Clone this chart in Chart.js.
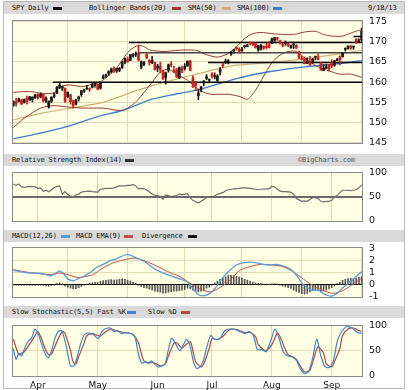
<!DOCTYPE html>
<html><head><meta charset="utf-8">
<script src="https://cdn.jsdelivr.net/npm/chart.js@4.4.0/dist/chart.umd.min.js"></script>
<style>
html,body{margin:0;padding:0;background:#fff;}
#wrap{position:relative;width:409px;height:390px;overflow:hidden;background:#fff;}
.frame{position:absolute;left:3px;top:1px;width:402px;height:388px;border:1px solid #b8b8b8;box-sizing:border-box;}
.hdr{position:absolute;left:4px;width:400px;height:12px;background:#d9d9d9;}
.t{position:absolute;font-family:"DejaVu Sans Mono",monospace;font-size:7px;letter-spacing:-0.15px;color:#111;white-space:nowrap;line-height:8px;}
.d{position:absolute;height:3px;width:9px;}
canvas{position:absolute;}
</style></head>
<body>
<div id="wrap">
<div class="frame"></div>
<div class="hdr" style="top:2px"></div>
<div class="hdr" style="top:154px"></div>
<div class="hdr" style="top:230px"></div>
<div class="hdr" style="top:306px"></div>

<span class="t" style="left:12px;top:4px">SPY Daily</span><div class="d" style="left:53px;top:7px;background:#111"></div>
<span class="t" style="left:89px;top:4px">Bollinger Bands(20)</span><div class="d" style="left:172px;top:7px;background:#9b3b3b"></div>
<span class="t" style="left:188px;top:4px">SMA(50)</span><div class="d" style="left:222px;top:7px;background:#cdb17c"></div>
<span class="t" style="left:237px;top:4px">SMA(100)</span><div class="d" style="left:273px;top:7px;background:#3d7fcc"></div>
<span class="t" style="left:368px;top:4px">9/18/13</span>

<span class="t" style="left:12px;top:156px">Relative Strength Index(14)</span><div class="d" style="left:125px;top:159px;background:#333"></div>
<span class="t" style="left:298px;top:156px;color:#555">©BigCharts.com</span>

<span class="t" style="left:12px;top:232px">MACD(12,26)</span><div class="d" style="left:61px;top:235px;background:#5b9bd8"></div>
<span class="t" style="left:76px;top:232px">MACD EMA(9)</span><div class="d" style="left:124px;top:235px;background:#c0504d"></div>
<span class="t" style="left:142px;top:232px">Divergence</span><div class="d" style="left:188px;top:235px;background:#111"></div>

<span class="t" style="left:12px;top:308px">Slow Stochastic(5,5) Fast %K</span><div class="d" style="left:127px;top:311px;background:#3d85d6"></div>
<span class="t" style="left:148px;top:308px">Slow %D</span><div class="d" style="left:181px;top:311px;background:#b5473f"></div>

<canvas id="cPrice" width="392" height="147" style="left:12px;top:8px"></canvas>
<canvas id="cRsi" width="392" height="73" style="left:12px;top:160px"></canvas>
<canvas id="cMacd" width="392" height="74" style="left:12px;top:235px"></canvas>
<canvas id="cStoch" width="392" height="77" style="left:12px;top:313px"></canvas>
</div>
<script>
// ---------- DATA ----------
const tradingDays = [
'3/18','3/19','3/20','3/21','3/22','3/25','3/26','3/27','3/28',
'4/1','4/2','4/3','4/4','4/5','4/8','4/9','4/10','4/11','4/12','4/15','4/16','4/17','4/18','4/19','4/22','4/23','4/24','4/25','4/26','4/29','4/30',
'5/1','5/2','5/3','5/6','5/7','5/8','5/9','5/10','5/13','5/14','5/15','5/16','5/17','5/20','5/21','5/22','5/23','5/24','5/28','5/29','5/30','5/31',
'6/3','6/4','6/5','6/6','6/7','6/10','6/11','6/12','6/13','6/14','6/17','6/18','6/19','6/20','6/21','6/24','6/25','6/26','6/27','6/28',
'7/1','7/2','7/3','7/5','7/8','7/9','7/10','7/11','7/12','7/15','7/16','7/17','7/18','7/19','7/22','7/23','7/24','7/25','7/26','7/29','7/30','7/31',
'8/1','8/2','8/5','8/6','8/7','8/8','8/9','8/12','8/13','8/14','8/15','8/16','8/19','8/20','8/21','8/22','8/23','8/26','8/27','8/28','8/29','8/30',
'9/3','9/4','9/5','9/6','9/9','9/10','9/11','9/12','9/13','9/16','9/17','9/18'];
const monthNames = ['Apr','May','Jun','Jul','Aug','Sep'];

const openP = [
154.3,155.3,155.3,155.6,155.0,156.0,155.6,155.7,156.2,
157.0,156.5,157.0,155.4,153.9,155.3,156.5,157.2,158.7,158.5,158.5,156.4,156.9,155.4,154.5,155.9,156.9,157.8,158.3,158.3,158.8,159.3,
159.5,158.5,161.0,161.4,162.2,162.6,163.3,162.8,163.0,163.6,164.9,165.6,165.4,166.6,166.8,167.2,163.7,164.4,166.8,165.4,164.8,164.9,
163.5,164.0,162.6,161.2,163.0,164.4,162.8,163.1,161.1,163.4,163.4,164.0,165.2,161.0,159.8,156.7,158.2,159.8,161.0,160.5,
162.1,161.4,160.4,162.5,164.5,165.0,165.0,167.0,167.7,168.5,168.2,167.8,168.8,168.9,169.7,169.7,169.5,168.0,168.2,168.8,168.8,169.3,
169.6,170.3,170.8,170.2,169.4,169.5,169.3,168.5,169.2,169.1,167.4,165.8,165.8,164.7,165.2,165.0,166.2,166.0,164.6,162.9,163.4,164.3,
164.7,164.2,165.4,166.3,166.3,168.1,168.2,168.9,168.7,170.6,169.9,170.5];
const highP = [
155.4,156.0,156.1,155.8,155.9,156.6,156.5,156.4,157.0,
157.1,157.4,157.2,156.4,155.4,156.4,157.4,158.9,159.7,159.0,158.6,157.6,157.0,155.6,155.8,156.6,158.0,158.3,159.2,158.6,159.7,159.9,
159.6,159.9,161.8,162.0,162.8,163.5,163.8,163.5,163.6,165.2,166.0,166.3,166.9,167.1,167.5,169.1,165.3,165.1,167.3,165.6,166.4,165.0,
164.4,165.0,163.0,162.5,164.5,165.1,163.9,163.4,163.8,164.0,164.6,165.3,165.4,161.6,160.2,158.2,159.0,160.4,161.9,160.8,
162.4,162.3,161.9,163.6,164.7,165.7,165.6,167.6,168.1,168.8,168.5,168.6,169.2,169.4,169.9,169.9,169.6,169.1,169.3,169.0,169.6,170.1,
170.9,171.0,171.1,170.4,169.7,170.2,169.7,169.2,169.9,169.3,167.7,166.5,166.2,166.0,166.4,165.9,166.4,167.0,164.9,164.4,164.5,164.4,
165.6,165.4,165.9,166.5,167.3,168.5,169.0,169.1,168.9,170.8,170.7,173.4];
const lowP = [
154.0,154.1,155.1,154.5,154.8,154.6,155.5,155.1,156.0,
155.8,156.1,155.1,155.0,153.6,154.9,156.1,157.2,158.4,157.9,155.0,156.2,154.6,153.6,154.4,155.3,156.5,157.5,158.2,157.7,158.6,158.8,
158.1,158.3,160.8,161.2,161.7,162.3,162.4,162.4,162.6,163.4,164.5,164.9,165.3,166.2,166.4,165.2,163.3,164.1,165.8,164.2,164.6,163.0,
162.6,162.3,160.6,159.5,162.5,163.8,162.3,161.1,160.9,162.3,163.0,163.9,162.8,158.7,157.9,155.7,157.6,159.1,160.6,159.8,
161.0,160.8,160.2,161.8,163.6,164.6,164.5,166.6,167.2,168.0,167.3,167.6,168.4,168.7,169.2,169.1,168.4,167.7,167.9,168.1,168.2,168.5,
169.5,170.1,170.3,169.4,168.7,169.1,168.8,168.4,168.3,168.3,165.8,165.5,164.5,164.6,164.2,164.7,165.5,165.5,162.9,162.9,163.4,162.8,
163.6,163.9,165.3,164.3,166.2,167.7,168.2,168.1,168.1,169.6,169.8,170.1];
const closeP = [
155.2,154.8,155.9,154.6,155.7,155.2,156.4,156.3,156.9,
156.2,157.0,155.4,156.0,155.3,156.3,156.9,158.8,159.3,158.9,155.2,157.5,155.2,154.2,155.5,156.3,157.9,157.9,158.5,158.2,159.4,159.8,
158.3,159.8,161.4,161.8,162.6,163.3,162.7,163.4,163.4,165.0,165.9,165.1,166.8,166.6,166.9,165.5,165.1,165.0,166.0,164.8,165.4,163.1,
164.0,163.1,160.9,162.3,164.3,164.3,162.6,161.3,163.6,162.7,163.9,165.2,162.9,158.8,159.2,157.3,158.8,160.3,161.3,160.6,
161.4,161.4,161.5,163.2,164.1,165.2,165.3,167.5,168.0,168.3,167.6,168.1,168.9,169.2,169.6,169.2,168.6,169.0,169.2,168.5,168.6,168.6,
170.7,171.0,170.7,169.7,169.1,169.8,169.1,169.0,169.4,168.5,166.1,165.6,164.6,165.2,164.3,165.7,166.3,165.6,163.0,163.5,163.8,163.3,
164.0,165.3,165.5,165.5,167.2,168.4,168.9,168.4,168.8,169.7,170.5,172.6];

// [day index, value]
const bbUpper = [[0,157.5],[6,157.7],[11,157.2],[15,157.4],[17,158.9],[21,159.3],[25,158.9],[28,159.3],[32,160.1],[35,161.6],[38,163.5],[40,165.5],[43,168.0],[46,169.1],[48,168.8],[50,168.0],[55,167.6],[61,167.9],[67,167.9],[71,166.8],[75,166.2],[79,167.1],[82,168.8],[85,170.8],[88,172.0],[91,172.3],[95,172.0],[99,171.8],[103,171.8],[107,172.4],[111,172.6],[114,171.8],[117,171.4],[121,171.4],[125,172.4],[128,173.0]];
const bbLower = [[0,148.8],[4,151.1],[10,153.6],[15,154.2],[21,153.8],[26,153.6],[33,153.6],[40,153.0],[44,154.5],[47,156.6],[51,160.0],[54,162.5],[57,163.2],[60,162.0],[64,160.5],[67,158.8],[70,157.5],[73,157.0],[79,157.0],[83,156.5],[86,155.8],[89,158.0],[92,161.5],[95,164.8],[98,166.7],[101,167.6],[104,167.6],[106,166.5],[109,165.0],[112,163.8],[116,162.8],[120,162.0],[124,162.0],[128,161.2]];
const sma50 = [[0,150.7],[10,152.3],[23,153.8],[33,155.0],[46,158.1],[56,160.1],[65,161.6],[76,163.4],[82,164.2],[95,164.9],[108,165.9],[120,167.0],[128,167.9]];
const sma100 = [[0,146.0],[9,147.3],[20,149.1],[31,151.5],[40,153.0],[51,155.8],[60,157.1],[69,158.3],[82,160.9],[95,162.7],[107,163.8],[117,164.4],[128,165.3]];
// drawn support / resistance levels: [start day index, price]
const levels = [[14.5,160.0],[42.5,169.8],[46,167.3],[71.5,164.9],[125,171.3]];

const rsi14 = [[0,76],[1,73],[2,76],[3,70],[4,69],[6,71],[8,70],[9,67],[10,68],[11,61],[12,63],[13,60],[15,68],[16,71],[17,72],[18,55],[19,60],[20,54],[21,51],[22,49],[23,53],[24,55],[25,59],[26,60],[28,61],[29,60],[31,59],[32,65],[33,66],[34,67],[36,67],[37,68],[38,70],[39,72],[41,72],[42,73],[43,73],[44,75],[45,72],[46,66],[47,67],[48,66],[50,60],[51,55],[52,53],[53,52],[54,50],[55,44],[56,53],[57,52],[58,50],[60,52],[61,55],[62,54],[63,55],[64,56],[65,47],[66,42],[67,39],[68,37],[69,40],[70,44],[71,48],[72,48],[73,49],[74,51],[75,55],[77,58],[78,62],[79,64],[80,65],[81,66],[83,67],[84,68],[85,68],[87,67],[88,66],[89,65],[90,64],[91,65],[93,66],[94,66],[95,71],[96,70],[97,65],[98,61],[99,60],[100,60],[102,59],[103,55],[104,46],[105,43],[106,40],[107,41],[108,40],[109,44],[110,48],[112,46],[113,40],[114,39],[115,40],[116,40],[117,42],[118,49],[119,52],[120,58],[121,63],[122,63],[124,62],[125,63],[126,64],[127,68],[128,74]];

const macdLine = [[0,1.2],[2.4,1.08],[6,0.96],[8.7,0.96],[11,0.9],[13.5,0.72],[15.3,0.9],[17,1.15],[18.2,0.96],[20,0.48],[22,0.32],[23.7,0.48],[25.6,0.67],[28,0.96],[30.7,1.44],[33,1.68],[35.5,1.97],[38,2.16],[40.3,2.4],[42,2.52],[44,2.35],[46.5,2.11],[49,1.8],[51.3,1.4],[53.9,1.08],[56.5,0.84],[58.7,0.67],[61.2,0.48],[63.8,0.24],[65.7,-0.24],[67.5,-0.72],[68.6,-0.88],[70.4,-0.9],[72.3,-0.72],[74.8,-0.12],[77,0.6],[79.6,1.2],[82,1.63],[84.4,1.8],[87,1.87],[89.5,1.8],[91.8,1.68],[94.3,1.63],[96.9,1.68],[99,1.56],[101.7,1.32],[104.3,0.72],[106.5,0.0],[108.3,-0.29],[110,-0.48],[112,-0.43],[113.8,-0.72],[115.6,-0.9],[117,-0.96],[119,-0.72],[121.2,-0.24],[123.8,0.24],[125.6,0.6],[128,1.08]];
const macdSignal = [[0,1.25],[6,1.0],[13.5,0.84],[17,0.96],[20,0.84],[23.4,0.6],[25.6,0.63],[29.3,0.84],[33,1.4],[36.6,1.8],[40.3,2.04],[44,2.2],[46.5,2.11],[50.2,1.8],[53.9,1.4],[57.6,1.0],[61.2,0.67],[64.9,0.12],[68.6,-0.36],[72.3,-0.6],[75.9,-0.24],[79.6,0.36],[83.3,1.2],[87,1.5],[90.7,1.68],[95.4,1.63],[99,1.49],[102.8,1.08],[106.5,0.48],[110,-0.05],[113.8,-0.48],[117.5,-0.72],[121.2,-0.48],[124.8,0.05],[128,0.53]];
const macdHist = [
-0.02,-0.04,-0.05,-0.06,-0.05,-0.04,-0.06,-0.05,-0.03,-0.02,-0.04,-0.07,-0.1,-0.12,-0.08,-0.02,0.08,0.16,
0.06,-0.12,-0.2,-0.3,-0.36,-0.33,-0.26,-0.15,-0.05,0.04,0.12,0.15,
0.2,0.18,0.28,0.33,0.36,0.4,0.42,0.38,0.4,0.44,0.48,0.45,0.38,0.3,0.2,0.1,-0.05,
-0.15,-0.25,-0.3,-0.38,-0.45,-0.55,-0.6,-0.63,-0.7,-0.68,-0.62,-0.58,-0.55,-0.55,-0.5,-0.45,-0.42,-0.3,-0.35,-0.45,-0.55,-0.6,-0.55,-0.45,-0.3,-0.2,
-0.05,0.15,0.3,0.45,0.55,0.65,0.75,0.78,0.76,0.7,0.62,0.55,0.45,0.38,0.3,0.22,0.15,0.1,
0.08,0.05,0.04,0.02,0.06,0.08,0.04,
-0.05,-0.12,-0.18,-0.25,-0.32,-0.45,-0.55,-0.65,-0.75,-0.78,-0.72,-0.6,-0.5,-0.45,-0.5,-0.6,-0.55,-0.45,-0.35,-0.25,-0.1,
0.08,0.2,0.35,0.45,0.5,0.52,0.5,0.55,0.6,0.68];

const stochK = [[0,54],[1,33],[2,45],[3,40],[4.3,57],[5.5,69],[6.7,75],[7.9,93],[9.2,82],[10.4,63],[11.6,45],[12.8,36],[14.1,51],[15.3,75],[16.5,88],[17.7,90],[19,69],[20.2,39],[21,20],[22.3,20],[23.5,39],[24.7,63],[26,81],[27.2,85],[28.4,84],[29.6,81],[31.2,74],[32.5,88],[34,94],[35.5,95],[37,88],[38.2,90],[39.8,84],[41.4,86],[43.1,84],[44.7,77],[45.9,45],[47.2,25],[48.4,28],[49.6,25],[50.8,30],[52,23],[53.3,18],[54.5,20],[55.7,23],[56.9,50],[58.2,75],[59.8,62],[61.2,50],[62.5,62],[63.7,72],[64.9,60],[66.1,30],[67.4,15],[68.6,18],[69.8,30],[71,55],[72.5,80],[74.1,72],[76,75],[77.8,90],[79.6,93],[81.5,92],[83.3,88],[85.1,84],[86.7,88],[88.2,80],[89.7,52],[91.3,52],[92.9,48],[94.6,70],[96.2,93],[97.8,72],[99.2,48],[100.7,40],[102.3,38],[103.9,32],[105.4,15],[106.8,5],[108.4,8],[110,35],[111.5,73],[113,40],[114.6,18],[116.1,17],[117.6,30],[119.1,70],[120.7,88],[122.5,98],[124.4,95],[125.6,90],[126.8,85],[128,85]];
const stochD = [[0,73],[2,42],[3,45],[4,48],[6,63],[8,80],[9,88],[10,78],[12,50],[13,42],[14,43],[16,68],[18,88],[19,84],[21,50],[22,27],[23,24],[24,38],[26,65],[27,80],[29,84],[31,80],[32,79],[34,88],[36,93],[38,89],[40,87],[42,85],[44,82],[46,66],[47,45],[48,30],[50,26],[51,27],[53,23],[54,20],[56,25],[57,40],[59,65],[60,66],[62,55],[63,60],[65,68],[66,50],[67,28],[69,18],[70,24],[72,55],[73,74],[75,72],[77,78],[79,90],[81,93],[83,90],[85,86],[87,86],[89,78],[90,62],[92,52],[93,50],[95,62],[97,85],[98,78],[100,52],[101,42],[103,37],[104,33],[106,15],[107,8],[109,12],[111,45],[112,58],[114,45],[115,24],[117,18],[118,28],[120,55],[121,80],[123,93],[125,95],[127,90],[128,88]];

const priceTicks = [145,150,155,160,165,170,175];
const rsiTicks = [0,20,50,80,100];
const macdTicks = [-1,0,1,2,3];
const stochTicks = [0,25,50,75,100];

// ---------- CHARTS ----------
const monthIdx = monthNames.map((m,k)=>tradingDays.findIndex(d=>d.startsWith(String(k+4)+'/')));
const pts = a => a.map(([x,y])=>({x,y}));
const GRID = '#dedbb6';
const PLOT_BG = '#ffffe4';
const UP = '#1a1a1a', DOWN = '#d01e1e';

const framePlugin = {
  id:'frame',
  beforeDraw(c){const a=c.chartArea,x=c.ctx;x.save();x.fillStyle=PLOT_BG;x.fillRect(a.left,a.top,a.right-a.left,a.bottom-a.top);x.restore();},
  afterDraw(c){const a=c.chartArea,x=c.ctx;x.save();x.strokeStyle='#8a8a8a';x.lineWidth=1;x.strokeRect(Math.round(a.left)+0.5,Math.round(a.top)+0.5,Math.round(a.right-a.left)-1,Math.round(a.bottom-a.top)-1);x.restore();}
};

function makeOpts(yMin,yMax,yTicks,showX,gridColor,gridWidth){
  return {
    responsive:false, animation:false, devicePixelRatio:1,
    layout:{padding:{top:8,bottom:showX?0:8,left:0,right:0}},
    plugins:{legend:{display:false},tooltip:{enabled:false}},
    scales:{
      x:{type:'linear',min:-0.5,max:tradingDays.length-0.5,offset:false,
         afterBuildTicks:s=>{s.ticks=monthIdx.map(v=>({value:v}));},
         afterFit:s=>{s.height=showX?13:0;},
         ticks:{display:showX,autoSkip:false,maxRotation:0,padding:3,color:'#111',
                font:{family:'DejaVu Sans',size:9},callback:(v,i)=>monthNames[i]},
         grid:{drawTicks:false,color:GRID,lineWidth:1},border:{display:false}},
      y:{type:'linear',position:'right',min:yMin,max:yMax,
         afterBuildTicks:s=>{s.ticks=yTicks.map(v=>({value:v}));},
         afterFit:s=>{s.width=41;},
         ticks:{padding:6,color:'#111',font:{family:'DejaVu Sans',size:9.5}},
         grid:{drawTicks:false,color:gridColor||GRID,lineWidth:gridWidth||1},border:{display:false}}
    }
  };
}
const lineDs = (data,color,w,extra)=>Object.assign({type:'line',data:pts(data),borderColor:color,borderWidth:w,pointRadius:0,fill:false,tension:0.25},extra||{});
const candleColor = ctx=> closeP[ctx.dataIndex] < openP[ctx.dataIndex] ? DOWN : UP;

new Chart(document.getElementById('cPrice'),{
  type:'bar',
  data:{datasets:[
    {type:'bar',data:closeP.map((c,i)=>({x:i,y:[openP[i],c]})),backgroundColor:candleColor,barThickness:2,minBarLength:1,grouped:false,borderWidth:0},
    {type:'bar',data:closeP.map((c,i)=>({x:i,y:[lowP[i],highP[i]]})),backgroundColor:candleColor,barThickness:1,grouped:false,borderWidth:0},
    ...levels.map(([s,v])=>({type:'line',data:[{x:s,y:v},{x:tradingDays.length-0.5,y:v}],borderColor:v===167.3?'#444':'#000',borderWidth:1.5,pointRadius:0,tension:0})),
    lineDs(bbUpper,'#9b3b3b',1),
    lineDs(bbLower,'#9b3b3b',1),
    lineDs(sma50,'#cdb17c',1.2),
    lineDs(sma100,'#3d7fcc',1.4)
  ]},
  options:makeOpts(144.9,175.45,priceTicks,false),
  plugins:[framePlugin]
});

new Chart(document.getElementById('cRsi'),{
  type:'line',
  data:{datasets:[lineDs(rsi14,'#6e6e6e',1.2,{tension:0})]},
  options:makeOpts(-1.5,101.5,rsiTicks,false,
    ctx=>ctx.tick && ctx.tick.value===50?'#6a6a6a':(ctx.tick && (ctx.tick.value===0||ctx.tick.value===100)?'rgba(0,0,0,0)':GRID),
    ctx=>ctx.tick && ctx.tick.value===50?2:1),
  plugins:[framePlugin]
});

new Chart(document.getElementById('cMacd'),{
  type:'bar',
  data:{datasets:[
    lineDs(macdLine,'#5b9bd8',1.3),
    lineDs(macdSignal,'#c0504d',1),
    {type:'bar',data:macdHist.map((v,i)=>({x:i,y:v})),backgroundColor:'#555',barThickness:1,grouped:false,borderWidth:0}
  ]},
  options:makeOpts(-1.05,3.15,macdTicks,false,
    ctx=>ctx.tick && ctx.tick.value===0?'#000':(ctx.tick && (ctx.tick.value===3||ctx.tick.value===-1)?'rgba(0,0,0,0)':GRID)),
  plugins:[framePlugin]
});

new Chart(document.getElementById('cStoch'),{
  type:'line',
  data:{datasets:[
    lineDs(stochK,'#3d85d6',1.2),
    lineDs(stochD,'#b5473f',1.2)
  ]},
  options:makeOpts(-2,101.5,stochTicks,true,
    ctx=>ctx.tick && (ctx.tick.value===0||ctx.tick.value===100)?'rgba(0,0,0,0)':GRID),
  plugins:[framePlugin]
});
</script>
</body></html>
